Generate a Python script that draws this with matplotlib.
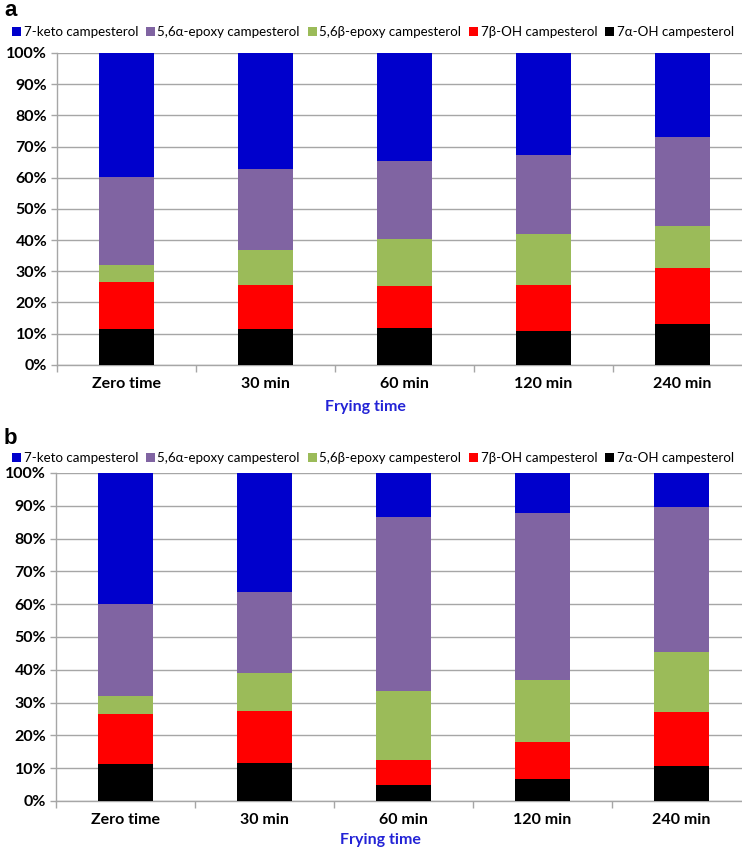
import matplotlib

matplotlib.use("Agg")
import matplotlib.pyplot as plt
import numpy as np
from matplotlib.ticker import FixedLocator, PercentFormatter

plt.rcParams["font.family"] = ["Lato", "DejaVu Sans"]

categories = ["Zero time", "30 min", "60 min", "120 min", "240 min"]
series_names = [
    "7-keto campesterol",
    "5,6α-epoxy campesterol",
    "5,6β-epoxy campesterol",
    "7β-OH campesterol",
    "7α-OH campesterol",
]
colors = ["#0000CC", "#8064A2", "#9BBB59", "#FF0000", "#000000"]

# panel a, segment shares in %, stacked from the bottom (7α-OH) upwards
a_alpha_oh = [11.3, 11.3, 11.9, 10.8, 13.2]
a_beta_oh = [15.2, 14.4, 13.3, 14.9, 17.9]
a_beta_epoxy = [5.6, 11.2, 15.0, 16.2, 13.3]
a_alpha_epoxy = [28.2, 25.8, 25.2, 25.4, 28.8]
a_keto = [39.7, 37.3, 34.6, 32.7, 26.8]

# panel b
b_alpha_oh = [11.2, 11.6, 4.8, 6.8, 10.8]
b_beta_oh = [15.2, 15.8, 7.7, 11.2, 16.3]
b_beta_epoxy = [5.6, 11.7, 21.1, 18.8, 18.4]
b_alpha_epoxy = [28.2, 24.5, 53.0, 51.0, 44.2]
b_keto = [39.8, 36.4, 13.4, 12.2, 10.3]

W, H = 742, 849
fig = plt.figure(figsize=(W / 100, H / 100), dpi=100)


def draw_panel(rect, series, letter, letter_y, legend_y, xlabel_x, xlabel_y):
    ax = fig.add_axes(rect)
    x = np.arange(len(categories))
    # series given top-to-bottom as in the legend; stack from the bottom
    bottom = np.zeros(len(categories))
    handles = {}
    for name, color, vals in reversed(list(zip(series_names, colors, series))):
        vals = np.array(vals, dtype=float)
        handles[name] = ax.bar(x, vals, 0.4, bottom=bottom, color=color,
                               edgecolor="none", zorder=3, label=name)
        bottom += vals

    ax.set_xlim(-0.5, len(categories) - 0.5)
    ax.set_ylim(0, 100)
    ax.set_yticks(np.arange(0, 101, 10))
    ax.yaxis.set_major_formatter(PercentFormatter(decimals=0))
    ax.yaxis.grid(True, color="#a6a6a6", linewidth=1.0, zorder=0)
    ax.set_xticks(x)
    ax.set_xticklabels(categories)
    ax.xaxis.set_minor_locator(FixedLocator(np.arange(-0.5, len(categories), 1.0)))
    ax.tick_params(axis="x", which="major", length=0, pad=9)
    ax.tick_params(axis="x", which="minor", length=5, color="#a6a6a6", width=1.0)
    ax.tick_params(axis="y", length=4, color="#a6a6a6", width=1.0, pad=3)
    for lab in ax.get_xticklabels() + ax.get_yticklabels():
        lab.set_fontsize(11.5)
        lab.set_fontweight("bold")
    for side in ["top", "right"]:
        ax.spines[side].set_visible(False)
    for side in ["left", "bottom"]:
        ax.spines[side].set_color("#a6a6a6")
        ax.spines[side].set_linewidth(1.0)

    fig.text(4 / W, 1 - letter_y / H, letter, fontsize=16, fontweight="bold",
             family="Liberation Sans", va="center", ha="left")
    fig.text(xlabel_x / W, 1 - xlabel_y / H, "Frying time", color="#2323D6",
             fontsize=11.5, fontweight="bold", ha="center", va="center")
    fig.legend([handles[n] for n in series_names], series_names, loc="center",
               bbox_to_anchor=(373 / W, 1 - legend_y / H), ncol=5, frameon=False,
               fontsize=9.6, handlelength=0.65, handleheight=0.65,
               handletextpad=0.2, columnspacing=0.6, borderaxespad=0)
    return ax


draw_panel([57 / W, 1 - 364.7 / H, 695 / W, 311.7 / H],
           [a_keto, a_alpha_epoxy, a_beta_epoxy, a_beta_oh, a_alpha_oh],
           "a", 11, 32, 365, 407)
draw_panel([56 / W, 1 - 801 / H, 695 / W, 328 / H],
           [b_keto, b_alpha_epoxy, b_beta_epoxy, b_beta_oh, b_alpha_oh],
           "b", 438, 458, 380, 840)

fig.savefig("out.png", dpi=100)
